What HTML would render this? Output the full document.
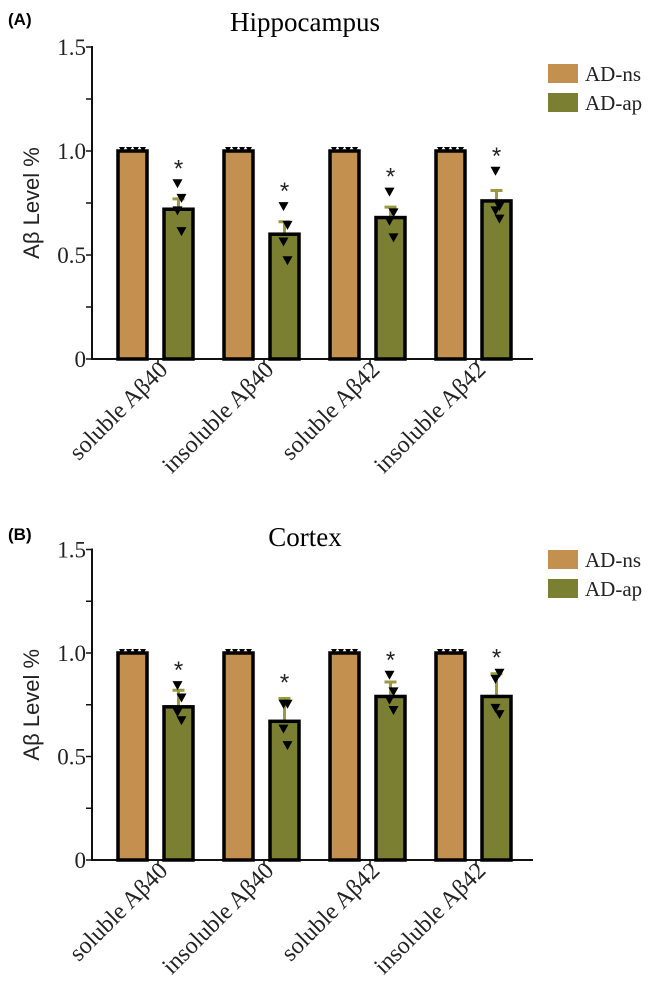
<!DOCTYPE html>
<html><head><meta charset="utf-8"><style>
body{margin:0;background:#fff;}
svg{display:block;}
.serif{font-family:"Liberation Serif",serif;}
.sans{font-family:"Liberation Sans",sans-serif;}
</style></head><body>
<svg id="chart" width="661" height="992" xmlns="http://www.w3.org/2000/svg"></svg>
<script>
const categories = ["soluble Aβ40","insoluble Aβ40","soluble Aβ42","insoluble Aβ42"];
const nsValuesA = [1,1,1,1];
const apValuesA = [0.72,0.60,0.68,0.76];
const apErrA = [0.05,0.06,0.05,0.05];
const apPointsA = [[0.84,0.77,0.71,0.61],[0.73,0.64,0.56,0.47],[0.80,0.70,0.66,0.58],[0.90,0.73,0.71,0.67]];
const nsValuesB = [1,1,1,1];
const apValuesB = [0.74,0.67,0.79,0.79];
const apErrB = [0.08,0.11,0.07,0.11];
const apPointsB = [[0.84,0.78,0.71,0.67],[0.75,0.75,0.63,0.55],[0.89,0.81,0.77,0.72],[0.87,0.90,0.73,0.70]];
const yTicks = [0,0.5,1.0,1.5];
const yTickLabels = ["0","0.5","1.0","1.5"];
const legendLabels = ["AD-ns","AD-ap"];

const NS="http://www.w3.org/2000/svg";
const svg=document.getElementById('chart');
function el(tag,attrs,parent){const e=document.createElementNS(NS,tag);for(const k in attrs)e.setAttribute(k,attrs[k]);(parent||svg).appendChild(e);return e;}
const TAN="#c4904f", OLIVE="#7b7f31", ERR="#9a9a40";

function panel(id,y0,scale,title,titleY,label,ns,ap,err,pts,legY){
  const g=el('g',{});
  
  
  const x0=92, xEnd=533;
  const yS=v=>y0-v*scale;
  const xGroup=i=>118+i*106;
  const bw=29;
  const t=el('text',{x:305,y:titleY,'font-size':27,'text-anchor':'middle',class:'serif'},g);
  t.textContent=title;
  
  
  const pl=el('text',{x:8,y:titleY-6,'font-size':17,'font-weight':'bold',class:'sans'},g);
  pl.textContent=label;
  
  
  const ya=el('line',{x1:x0,y1:yS(1.5)-1,x2:x0,y2:y0+1,stroke:'#111','stroke-width':2},g);
  
  
  for(let v=0;v<=1.5001;v+=0.25){
    const tk=el('line',{x1:x0-6,y1:yS(v),x2:x0,y2:yS(v),stroke:'#111','stroke-width':1.5},g);
    
    
  }
  yTicks.forEach((v,i)=>{
    const tl=el('text',{x:86,y:yS(v)+8,'font-size':23,'text-anchor':'end',class:'serif',fill:'#222'},g);
    tl.textContent=yTickLabels[i];
    
    
  });
  const yt=el('text',{transform:`translate(39,${yS(0.75)}) rotate(-90)`,'font-size':22,'text-anchor':'middle',class:'sans',fill:'#222'},g);
  yt.textContent='Aβ  Level %';
  
  
  const xa=el('line',{x1:x0-1,y1:y0,x2:xEnd,y2:y0,stroke:'#111','stroke-width':2},g);
  
  
  categories.forEach((c,i)=>{
    const xc=xGroup(i)+40;
    const tk=el('line',{x1:xc,y1:y0,x2:xc,y2:y0+6,stroke:'#111','stroke-width':1.5},g);
    
    
    const tl=el('text',{transform:`translate(${xc+11},${y0+12}) rotate(-45)`,'font-size':24,'text-anchor':'end',class:'serif',fill:'#222'},g);
    tl.textContent=c;
    
    
    const xb=xGroup(i);
    const b1=el('rect',{x:xb,y:yS(ns[i]),width:bw,height:ns[i]*scale,fill:TAN,stroke:'#000','stroke-width':3.5},g);
    
    
    for(let k=0;k<4;k++){
      const px=xb+4+k*7;
      el('path',{d:`M${px-3},${yS(ns[i])-4} L${px+3},${yS(ns[i])-4} L${px},${yS(ns[i])+1}Z`,fill:'#000'},g);
    }
    const xa2=xb+46;
    const top=yS(ap[i]);
    const eb=el('path',{d:`M${xa2+bw/2},${top} V${yS(ap[i]+err[i])} M${xa2+bw/2-6},${yS(ap[i]+err[i])} H${xa2+bw/2+6}`,stroke:ERR,'stroke-width':3,fill:'none'},g);
    
    
    const b2=el('rect',{x:xa2,y:top,width:bw,height:ap[i]*scale,fill:OLIVE,stroke:'#000','stroke-width':3.5},g);
    
    
    let maxP=ap[i]+err[i];
    pts[i].forEach((p,k)=>{
      maxP=Math.max(maxP,p);
      const px=xa2+bw/2+(k%2?3:-1), py=yS(p);
      const tri=el('path',{d:`M${px-5},${py-5} L${px+5},${py-5} L${px},${py+4}Z`,fill:'#000'},g);
      
      
    });
    const st=el('text',{x:xa2+bw/2,y:yS(maxP)-8,'font-size':24,'text-anchor':'middle',class:'sans',fill:'#222'},g);
    st.textContent='*';
    
    
  });
  [TAN,OLIVE].forEach((col,k)=>{
    const sw=el('rect',{x:548,y:legY+k*29,width:30,height:19,fill:col},g);
    
    
    const lt=el('text',{x:585,y:legY+k*29+17,'font-size':21,class:'serif',fill:'#222'},g);
    lt.textContent=legendLabels[k];
    
    
  });
}
panel('a',359,208,'Hippocampus',31,'(A)',nsValuesA,apValuesA,apErrA,apPointsA,64);
panel('b',860,207,'Cortex',546,'(B)',nsValuesB,apValuesB,apErrB,apPointsB,550);
</script>
</body></html>
